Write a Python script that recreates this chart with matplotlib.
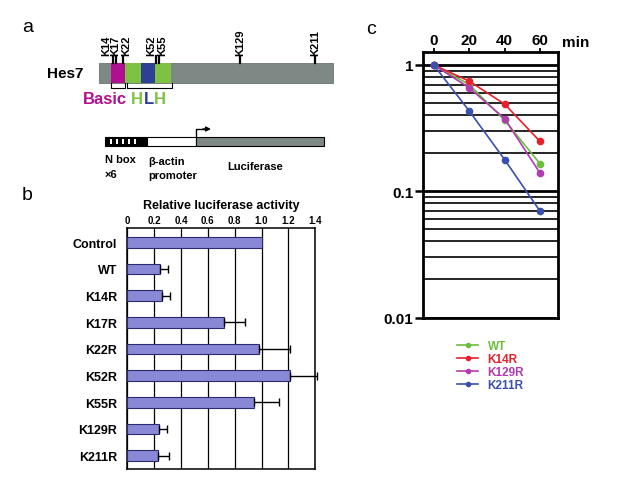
import matplotlib.pyplot as plt
from matplotlib.patches import Rectangle
from matplotlib.lines import Line2D

plt.rcParams['font.family'] = ['Liberation Sans', 'DejaVu Sans']
plt.rcParams['font.weight'] = 'bold'
plt.rcParams['axes.labelweight'] = 'bold'

# panel b: luciferase reporter assay
constructs = ['Control', 'WT', 'K14R', 'K17R', 'K22R', 'K52R', 'K55R', 'K129R', 'K211R']
activity = [1.0, 0.24, 0.26, 0.72, 0.98, 1.21, 0.94, 0.235, 0.23]
activity_err = [0.0, 0.06, 0.055, 0.155, 0.23, 0.205, 0.19, 0.06, 0.08]
b_ticks = [0, 0.2, 0.4, 0.6, 0.8, 1.0, 1.2, 1.4]
b_ticklabels = ['0', '0.2', '0.4', '0.6', '0.8', '1.0', '1.2', '1.4']

# panel c: protein decay (relative amount vs min)
minutes = [0, 20, 40, 60]
wt_level = [1.0, 0.70, 0.365, 0.165]
k14r_level = [1.0, 0.745, 0.49, 0.248]
k129r_level = [1.0, 0.66, 0.376, 0.139]
k211r_level = [1.0, 0.433, 0.178, 0.0695]
series_names = ['WT', 'K14R', 'K129R', 'K211R']
series_colors = ['#6cbd3d', '#e6202c', '#b03cb0', '#3b4fae']

# panel a: schematic (drawing units = pixels)
site_labels = ['K14', 'K17', 'K22', 'K52', 'K55', 'K129', 'K211']
site_x = [113.3, 116.0, 122.7, 155.5, 159.3, 240, 314.5]
site_label_x = [106, 115.5, 126.5, 151.7, 162.5, 240, 315]

fig = plt.figure(figsize=(6.2, 4.89), dpi=100)

# ---------- panel a ----------
ax_a = fig.add_axes([0, 0, 1, 1])
ax_a.set_xlim(0, 620)
ax_a.set_ylim(489, 0)
ax_a.axis('off')

ax_a.text(22, 28, 'a', fontsize=14, fontweight='normal', va='center')
ax_a.text(83, 74, 'Hes7', fontsize=11, ha='right', va='center')

gray = '#7e8986'
ax_a.add_patch(Rectangle((99, 64), 234, 20, fc=gray, ec='#6a7472', lw=0.6))
ax_a.add_patch(Rectangle((111, 64), 14.3, 20, fc='#b0108f', lw=0))
ax_a.add_patch(Rectangle((125.3, 64), 15.7, 20, fc='#7dc242', lw=0))
ax_a.add_patch(Rectangle((141, 64), 14, 20, fc='#2e3f98', lw=0))
ax_a.add_patch(Rectangle((155, 64), 16, 20, fc='#7dc242', lw=0))

# brackets under domains
ax_a.plot([111, 111, 125, 125], [84, 89, 89, 84], color='black', lw=0.8)
ax_a.plot([127, 127, 172, 172], [84, 89, 89, 84], color='black', lw=0.8)
ax_a.text(83, 99.5, 'Basic', color='#b0108f', fontsize=12, va='center')
ax_a.text(131, 99.5, 'H', color='#7dc242', fontsize=12, va='center')
ax_a.text(144, 99.5, 'L', color='#2e3f98', fontsize=12, va='center')
ax_a.text(154, 99.5, 'H', color='#7dc242', fontsize=12, va='center')

for lab, x, lx in zip(site_labels, site_x, site_label_x):
    ax_a.plot([x, x], [57, 64], color='black', lw=1.6)
    ax_a.text(lx, 56, lab, rotation=90, fontsize=8, ha='center', va='bottom')

# reporter construct
ax_a.add_patch(Rectangle((105, 137.7), 42, 9.3, fc='black', ec='black', lw=0.8))
for sx in [110, 116, 122, 128, 134]:
    ax_a.add_patch(Rectangle((sx, 140), 2.2, 5, fc='white', lw=0))
ax_a.add_patch(Rectangle((147, 137.7), 49, 9.3, fc='white', ec='black', lw=0.8))
ax_a.add_patch(Rectangle((196, 137.7), 128, 9.3, fc=gray, ec='black', lw=0.8))
ax_a.plot([196, 196, 204], [137.7, 130, 130], color='black', lw=1)
ax_a.annotate('', xy=(211, 130), xytext=(203, 130),
              arrowprops=dict(arrowstyle='-|>', color='black', lw=1,
                              mutation_scale=7, shrinkA=0, shrinkB=0))
ax_a.text(105, 160, 'N box', fontsize=8, va='center')
ax_a.text(105, 175.5, '\u00d76', fontsize=8, va='center')
ax_a.text(148, 162, '\u03b2-actin', fontsize=8, va='center')
ax_a.text(148, 176, 'promoter', fontsize=8, va='center')
ax_a.text(227, 166.5, 'Luciferase', fontsize=8, va='center')

ax_a.text(22, 196, 'b', fontsize=14, fontweight='normal', va='center')
ax_a.text(366, 29, 'c', fontsize=14, fontweight='normal', va='center')

# ---------- panel b ----------
ax_b = fig.add_axes([127.3 / 620, 1 - 470 / 489, 188 / 620, 241 / 489])
ypos = list(range(len(constructs)))
ax_b.barh(ypos, activity, height=0.4, color='#8888d6', edgecolor='#2b2b6e', lw=0.8, zorder=3)
ax_b.errorbar(activity[1:], ypos[1:],
              xerr=[[0] * (len(constructs) - 1), activity_err[1:]],
              fmt='none', ecolor='black', elinewidth=1, capsize=3, capthick=1,
              zorder=4, clip_on=False)
ax_b.set_xlim(0, 1.4)
ax_b.set_ylim(8.5, -0.535)
ax_b.set_xticks(b_ticks)
ax_b.set_xticklabels(b_ticklabels)
ax_b.xaxis.tick_top()
ax_b.xaxis.set_label_position('top')
ax_b.tick_params(axis='x', length=0, labelsize=7, pad=2)
ax_b.set_xlabel('Relative luciferase activity', fontsize=9, fontweight='bold', labelpad=5)
ax_b.set_yticks(ypos)
ax_b.set_yticklabels(constructs)
ax_b.tick_params(axis='y', length=0, labelsize=9, pad=7.5)
ax_b.grid(axis='x', color='black', lw=0.9)
ax_b.set_axisbelow(True)
for s in ax_b.spines.values():
    s.set_linewidth(1.1)

# ---------- panel c ----------
ax_c = fig.add_axes([423.3 / 620, 1 - 318.5 / 489, 135 / 620, 265.2 / 489])
levels = [wt_level, k14r_level, k129r_level, k211r_level]
for name, lev, col in zip(series_names, levels, series_colors):
    ax_c.plot(minutes, lev, color=col, lw=1.2, marker='o', ms=4.5, label=name, zorder=3)
ax_c.set_yscale('log')
ax_c.set_ylim(0.01, 1.26)
ax_c.set_xlim(-5.9, 70.3)
ax_c.xaxis.tick_top()
ax_c.set_xticks(minutes)
ax_c.set_xticklabels([str(m) for m in minutes])
ax_c.tick_params(axis='x', length=3, width=1.3, labelsize=11, pad=1)
ax_c.set_yticks([1, 0.1, 0.01])
ax_c.set_yticklabels(['1', '0.1', '0.01'])
ax_c.tick_params(axis='y', which='major', length=6, width=1.8, labelsize=11, pad=1)
ax_c.tick_params(axis='y', which='minor', length=0)
ax_c.grid(axis='y', which='minor', color='black', lw=1.2)
ax_c.grid(axis='y', which='major', color='black', lw=2)
for s in ax_c.spines.values():
    s.set_linewidth(2)
fig.text(576 / 620, 1 - 43 / 489, 'min', fontsize=11, ha='center', va='center')

handles = [Line2D([0], [0], color=c, lw=1.2, marker='o', ms=3) for c in series_colors]
ax_c.legend(handles, series_names, loc='upper left',
            bbox_to_anchor=(457 / 620, 1 - 341 / 489), bbox_transform=fig.transFigure,
            frameon=False, labelcolor='linecolor', handlelength=1.8, handletextpad=0.8,
            labelspacing=0.08, borderpad=0, borderaxespad=0, fontsize=8.5)

fig.savefig('out.png', dpi=100)
